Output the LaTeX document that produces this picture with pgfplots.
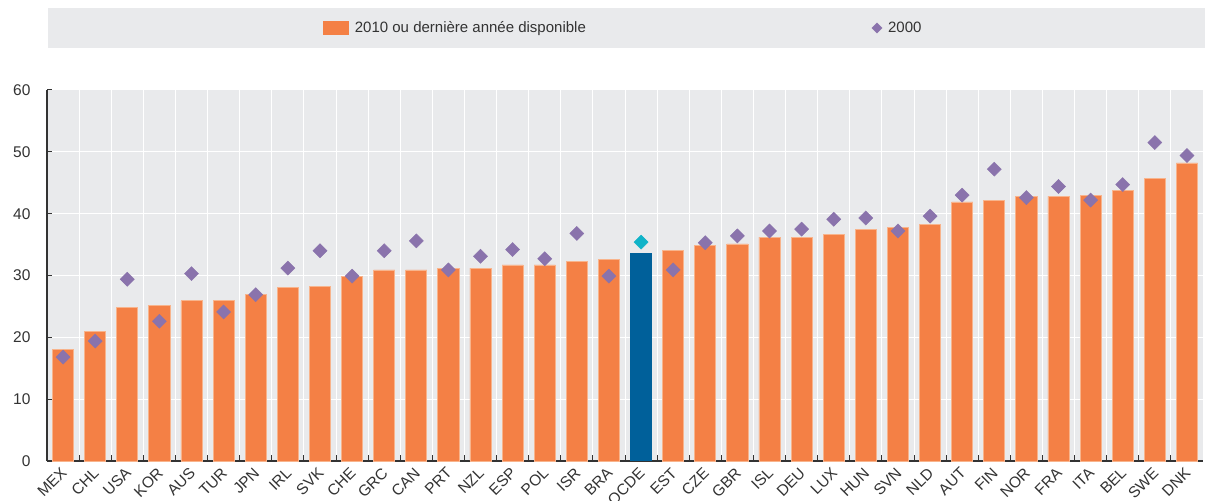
\documentclass[border=0pt]{standalone}
\usepackage{fontspec}
\setmainfont{Liberation Sans}
\usepackage{pgfplots}
\pgfplotsset{compat=1.18}
\definecolor{barorange}{HTML}{F48045}
\definecolor{baredge}{HTML}{F8B48C}
\definecolor{oecdblue}{HTML}{00609A}
\definecolor{dpurple}{HTML}{8A73AC}
\definecolor{dcyan}{HTML}{10B3C8}
\definecolor{bggray}{HTML}{E9EAEC}
\definecolor{txt}{HTML}{333333}
\begin{document}
\begin{tikzpicture}
\useasboundingbox (-47bp,-40bp) rectangle (1158bp,461bp);
\fill[bggray] (1bp,413bp) rectangle (1158bp,453bp);
\begin{axis}[at={(0,0)}, anchor=south west, scale only axis,
  width=1156bp, height=371bp,
  xmin=-0.5, xmax=35.5, ymin=0, ymax=60,
  ytick={0,10,...,60},
  xtick={0,...,35},
  xticklabels={MEX,CHL,USA,KOR,AUS,TUR,JPN,IRL,SVK,CHE,GRC,CAN,PRT,NZL,ESP,POL,ISR,BRA,OCDE,EST,CZE,GBR,ISL,DEU,LUX,HUN,SVN,NLD,AUT,FIN,NOR,FRA,ITA,BEL,SWE,DNK},
  minor xtick={0.5,1.5,...,34.5},
  axis background/.style={fill=bggray},
  ymajorgrids, xminorgrids,
  grid style={white, line width=1bp},
  axis x line*=bottom, axis y line*=left,
  axis line style={-, txt, line width=1.5bp},
  tick align=inside,
  major x tick style={draw=none},
  minor x tick style={txt, line width=1bp},
  major y tick style={txt, line width=1bp},
  major tick length=5bp, minor tick length=6bp,
  /pgf/number format/assume math mode=true,
  tick label style={font=\fontsize{15.5bp}{18bp}\selectfont, text=txt},
  yticklabel style={xshift=-13bp},
  xticklabel style={xshift=-3bp, yshift=-4bp, rotate=45, anchor=north east, inner sep=1bp},
  legend style={at={(0.4985,1.167)}, anchor=center, draw=none, fill=none,
    legend columns=2, font=\fontsize{15bp}{18bp}\selectfont, text=txt,
    /tikz/column 1/.style={column sep=4bp},
    /tikz/column 2/.style={column sep=284bp},
    /tikz/column 3/.style={column sep=4bp}},
  legend cell align=left,
  clip=false,
]
\addplot[ybar, bar width=0.66, fill=barorange, draw=baredge, line width=0.8bp,
  legend image code/.code={\fill[barorange] (0bp,-6.5bp) rectangle (25bp,6.5bp);}]
  coordinates {
  (0,18.1) (1,20.9) (2,24.8) (3,25.1) (4,25.9) (5,25.9) (6,26.9) (7,28.0)
  (8,28.3) (9,29.8) (10,30.9) (11,30.9) (12,31.2) (13,31.2) (14,31.7) (15,31.7)
  (16,32.3) (17,32.6) (19,34.0) (20,34.9) (21,35.1) (22,36.2) (23,36.2)
  (24,36.6) (25,37.5) (26,37.7) (27,38.3) (28,41.9) (29,42.1) (30,42.8) (31,42.8)
  (32,43.0) (33,43.8) (34,45.7) (35,48.2)};
\addlegendentry{2010 ou dernière année disponible}
\addplot[ybar, bar width=0.66, fill=oecdblue, draw=none, forget plot]
  coordinates {(18,33.7)};
\addplot[only marks, mark=square*, mark size=5bp, mark options={rotate=45, fill=dpurple, draw=dpurple},
  legend image code/.code={\draw[dpurple, fill=dpurple] plot[only marks, mark=square*, mark size=3.6bp, mark options={rotate=45}] coordinates {(4bp,0bp)};}]
  coordinates {
  (0,16.8) (1,19.4) (2,29.4) (3,22.6) (4,30.3) (5,24.1) (6,26.9) (7,31.2)
  (8,34.0) (9,29.9) (10,34.0) (11,35.6) (12,30.9) (13,33.1) (14,34.2) (15,32.7)
  (16,36.8) (17,29.9) (19,30.9) (20,35.3) (21,36.4) (22,37.2) (23,37.5)
  (24,39.1) (25,39.3) (26,37.2) (27,39.6) (28,43.0) (29,47.2) (30,42.6) (31,44.4)
  (32,42.2) (33,44.7) (34,51.5) (35,49.4)};
\addlegendentry{2000}
\addplot[only marks, mark=square*, mark size=5bp, mark options={rotate=45, fill=dcyan, draw=dcyan}, forget plot]
  coordinates {(18,35.4)};
\end{axis}
\end{tikzpicture}
\end{document}
